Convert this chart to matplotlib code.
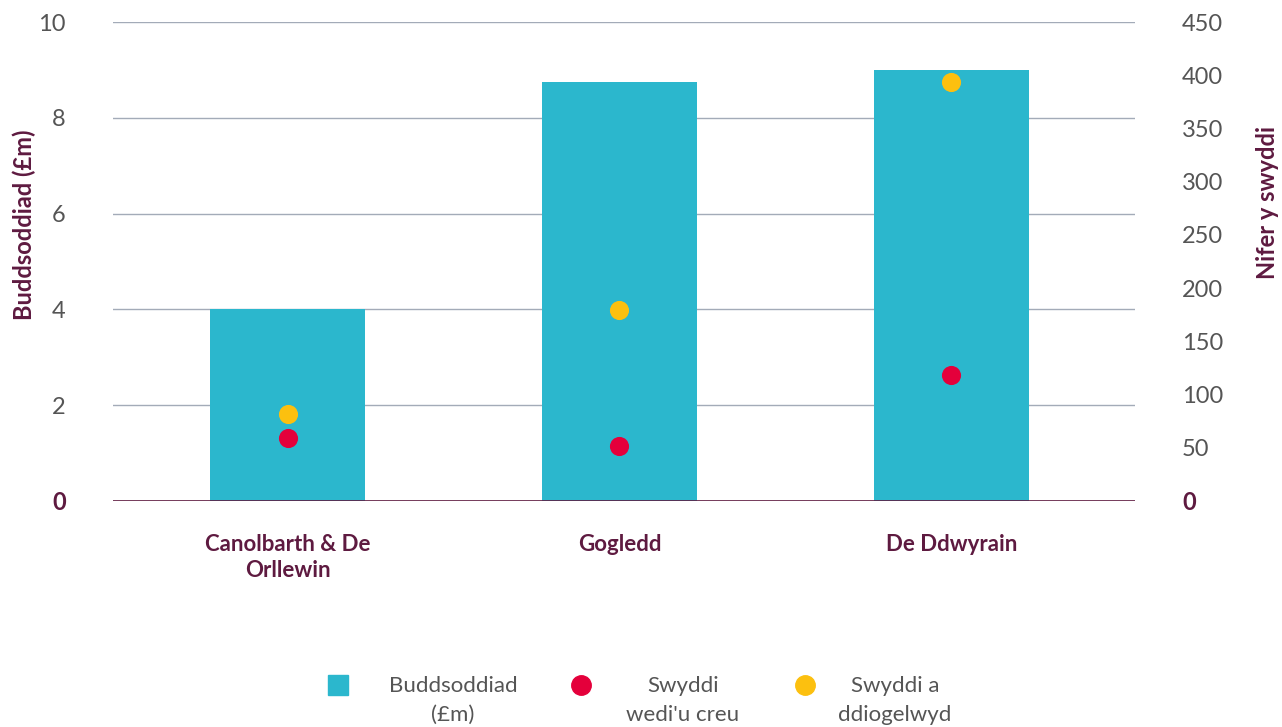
import numpy as np
import matplotlib.pyplot as plt
from matplotlib.lines import Line2D

plt.rcParams['font.family'] = ['Lato', 'DejaVu Sans']

# data
regions = ['Canolbarth & De\nOrllewin', 'Gogledd', 'De Ddwyrain']
investment = [4.0, 8.75, 9.0]          # £m, left axis
jobs_created = [59, 52, 118]           # right axis
jobs_safeguarded = [82, 179, 394]      # right axis
left_ticks = [0, 2, 4, 6, 8, 10]
right_ticks = [0, 50, 100, 150, 200, 250, 300, 350, 400, 450]
legend_labels = ['Buddsoddiad\n(£m)', "Swyddi\nwedi'u creu", 'Swyddi a\nddiogelwyd']

maroon = '#5e1a40'
teal = '#2bb7cd'
red = '#e4003b'
yellow = '#fcc00f'
grey_txt = '#555555'
grid_col = '#a3abb8'

fig = plt.figure(figsize=(12.82, 7.27), dpi=100)
ax = fig.add_axes([0.0881, 0.3109, 0.7972, 0.6588])
ax2 = ax.twinx()

x = np.arange(len(regions))
ax.bar(x, investment, width=0.467, color=teal, zorder=2)
ax2.scatter(x, jobs_created, s=190, color=red, zorder=3, linewidths=0)
ax2.scatter(x, jobs_safeguarded, s=190, color=yellow, zorder=3, linewidths=0)

ax.set_xlim(-0.526, 2.553)
ax.set_ylim(0, 10)
ax2.set_ylim(0, 450)

ax.set_yticks(left_ticks)
ax.set_yticklabels([str(t) for t in left_ticks])
ax2.set_yticks(right_ticks)
ax2.set_yticklabels([str(t) for t in right_ticks])

for t in left_ticks[1:]:
    ax.axhline(t, color=grid_col, lw=1, zorder=1)
ax.axhline(0, color=maroon, lw=1.2, zorder=4)

for a in (ax, ax2):
    for s in a.spines.values():
        s.set_visible(False)

ax.tick_params(axis='y', length=0, pad=34, labelsize=17, labelcolor=grey_txt)
ax2.tick_params(axis='y', length=0, pad=34, labelsize=17, labelcolor=grey_txt)
for a in (ax, ax2):
    z = a.get_yticklabels()[0]
    z.set_fontweight('bold')
    z.set_color(maroon)

ax.set_xticks(x)
ax.set_xticklabels(regions, fontsize=16, fontweight='bold', color=maroon,
                   linespacing=1.3)
ax.tick_params(axis='x', length=0, pad=24)

ax.set_ylabel('Buddsoddiad (£m)', fontsize=17, fontweight='bold', color=maroon)
ax2.set_ylabel('Nifer y swyddi', fontsize=17, fontweight='bold', color=maroon,
               rotation=90)
ax.yaxis.set_label_coords(-0.075, 0.576)
ax2.yaxis.set_label_coords(1.118, 0.624)

# legend drawn by hand so the markers line up with the first text line
W, H = 1282, 727
lx = fig.add_axes([0, 0, 1, 1], facecolor='none')
lx.set_xlim(0, W)
lx.set_ylim(H, 0)
lx.axis('off')
handle_x = [338, 581, 805]
text_x = [453, 683, 895]
styles = [dict(marker='s', color=teal, markersize=14),
          dict(marker='o', color=red, markersize=14),
          dict(marker='o', color=yellow, markersize=14)]
for hx, tx, st, lab in zip(handle_x, text_x, styles, legend_labels):
    lx.add_line(Line2D([hx], [685], ls='none', **st))
    lx.text(tx, 676, lab, ha='center', va='top', fontsize=16, color=grey_txt,
            linespacing=1.55, multialignment='center')

fig.savefig('out.png', dpi=100)
